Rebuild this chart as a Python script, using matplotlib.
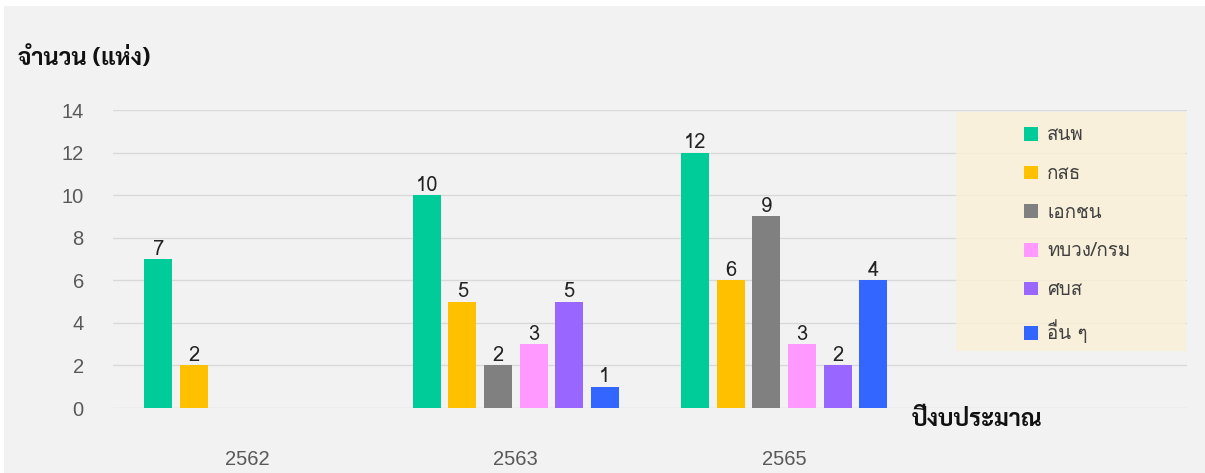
import matplotlib
matplotlib.use("Agg")
import matplotlib.pyplot as plt
from matplotlib.patches import Rectangle
import numpy as np

# data
years = ["2562", "2563", "2565"]
series_names = ["สนพ", "กสธ", "เอกชน", "ทบวง/กรม", "ศบส", "อื่น ๆ"]
snp = [7, 10, 12]
ksd = [2, 5, 6]
private = [0, 2, 9]
tbwg = [0, 3, 3]
sbs = [0, 5, 2]
other = [0, 1, 6]
# printed labels (last group of "other" shows 4 on a bar of height 6)
snp_labels = ["7", "10", "12"]
ksd_labels = ["2", "5", "6"]
private_labels = ["", "2", "9"]
tbwg_labels = ["", "3", "3"]
sbs_labels = ["", "5", "2"]
other_labels = ["", "1", "4"]

series = [snp, ksd, private, tbwg, sbs, other]
labels = [snp_labels, ksd_labels, private_labels, tbwg_labels, sbs_labels, other_labels]
colors = ["#00CC99", "#FFC000", "#808080", "#FF99FF", "#9966FF", "#3366FF"]

thai = ["Loma", "Noto Sans Thai Looped", "DejaVu Sans"]
thai_bold = ["Sarabun", "Loma", "DejaVu Sans"]
num_font = ["Liberation Sans", "DejaVu Sans"]

fig = plt.figure(figsize=(12.05, 4.73), dpi=100, facecolor="white")
# grey panel with a thin white margin top/left
fig.patches.append(Rectangle((4 / 1205, 0), 1, 1 - 6 / 473, transform=fig.transFigure,
                             facecolor="#f2f2f2", edgecolor="none", zorder=-10))

ax = fig.add_axes([113 / 1205, 65 / 473, 1074 / 1205, 298 / 473])
ax.set_facecolor("none")

x = np.arange(len(years))
pitch = 0.1327
width = 0.1043
for i, (vals, labs, c, name) in enumerate(zip(series, labels, colors, series_names)):
    pos = x + (i - 2.5) * pitch
    bars = ax.bar(pos, vals, width, color=c, label=name, zorder=3)
    for b, lab in zip(bars, labs):
        if lab:
            ax.text(b.get_x() + b.get_width() / 2, b.get_height() + 0.02, lab,
                    ha="center", va="bottom", fontsize=14.5, color="#222222",
                    family=["Loma", "DejaVu Sans"], zorder=4)

ax.set_xlim(-0.5, 3.5)
ax.set_ylim(0, 14)
ax.set_yticks(range(0, 15, 2))
ax.set_xticks(x)
ax.set_xticklabels(years)
ax.grid(axis="y", color="#d9d9d9", linewidth=1, zorder=1)
ax.set_axisbelow(True)
for s in ax.spines.values():
    s.set_visible(False)
ax.tick_params(length=0, labelcolor="#595959", labelsize=14.5)
ax.tick_params(axis="y", pad=21)
ax.tick_params(axis="x", pad=30)
for t in ax.get_xticklabels() + ax.get_yticklabels():
    t.set_family(num_font)

# legend box (semi-transparent cream)
ax.add_patch(Rectangle((0.785, 0.191), 0.214, 0.802, transform=ax.transAxes,
                       facecolor="#fbf0d4", edgecolor="none", alpha=0.75, zorder=2))
leg = ax.legend(loc="upper left", bbox_to_anchor=(0.834, 0.995), frameon=False,
                prop={"family": thai, "size": 13.5}, labelcolor="#404040",
                handlelength=0.75, handleheight=0.75, handletextpad=0.5,
                labelspacing=1.1, borderpad=0.3)

fig.text(18 / 1205, 1 - 59 / 473, "จำนวน (แห่ง)", fontsize=17, fontweight="bold",
         family=thai_bold, va="center", ha="left", color="#111111")
fig.text(912 / 1205, 1 - 420 / 473, "ปีงบประมาณ", fontsize=17, fontweight="bold",
         family=thai_bold, va="center", ha="left", color="#111111")

fig.savefig("out.png", dpi=100, facecolor=fig.get_facecolor())
